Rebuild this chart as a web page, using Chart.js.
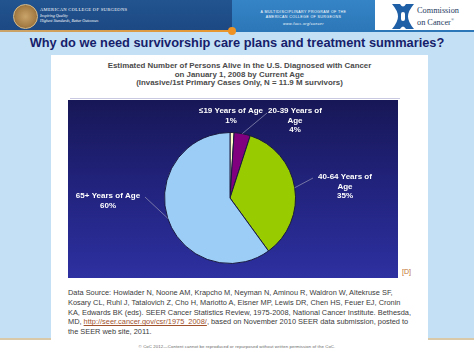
<!DOCTYPE html>
<html>
<head>
<meta charset="utf-8">
<script src="https://cdn.jsdelivr.net/npm/chart.js@4/dist/chart.umd.min.js"></script>
<style>
  html,body{margin:0;padding:0;}
  body{width:474px;height:355px;position:relative;overflow:hidden;background:#ffffff;font-family:"Liberation Sans",Arial,sans-serif;}
  .abs{position:absolute;}
  #hdrL{left:0;top:0;width:232px;height:31px;background:linear-gradient(to bottom,#22548f,#1c4883);}
  #hdrM{left:232px;top:0;width:143px;height:31px;background:linear-gradient(to bottom,#3584c6,#2c77b8);}
  #hdrR{left:375px;top:0;width:99px;height:31px;background:#fff;}
  #lineL{left:0;top:30px;width:232px;height:2px;background:linear-gradient(to right,#c9a36a,#e8962c);}
  #lineR{left:232px;top:30px;width:242px;height:2px;background:#2c77b8;}
  #dot{left:228px;top:27px;width:8px;height:8px;border-radius:50%;background:#ee9323;}
  #bg{left:0;top:32px;width:474px;height:307px;background:#c4e0f4;}
  #tan{left:0;top:338px;width:474px;height:2px;background:#d9c9a9;}
  #panel{left:51px;top:55px;width:377px;height:300px;background:#fff;}
  #seal{left:13px;top:4px;width:23px;height:23px;border-radius:50%;background:radial-gradient(circle,#c9a46a 0,#a57d45 60%,#6f5026 100%);border:1px solid #d9bd8a;}
  .hs{color:#fff;white-space:nowrap;}
  #title{left:0;top:35px;width:474px;text-align:center;font-weight:bold;font-size:12.8px;color:#16206b;white-space:nowrap;}
  #ctitle{left:51px;top:62px;width:377px;text-align:center;font-weight:bold;font-size:7.9px;line-height:8.7px;color:#4a4a4a;white-space:nowrap;}
  #sep{left:70px;top:98px;width:330px;height:1px;background:#c9c9e2;}
  #chartBox{left:68px;top:100px;width:330px;height:178px;background:linear-gradient(to bottom,#171757 0%,#22237e 50%,#2d30a0 100%);}
  #dref{left:402px;top:268px;font-size:7px;color:#c0702c;}
  #cite{left:68px;top:288px;font-size:7.4px;line-height:9.8px;color:#3a3a3a;white-space:nowrap;}
  #cite a{color:#a0522d;text-decoration:underline;}
  #foot{left:0;top:344px;width:474px;text-align:center;font-size:4.3px;color:#666;white-space:nowrap;letter-spacing:0.1px;}
</style>
</head>
<body>
<div class="abs" id="bg"></div>
<div class="abs" id="tan"></div>
<div class="abs" id="panel"></div>
<div class="abs" id="hdrL"></div>
<div class="abs" id="hdrM"></div>
<div class="abs" id="hdrR"></div>
<div class="abs" id="lineL"></div>
<div class="abs" id="lineR"></div>
<div class="abs" id="dot"></div>
<div class="abs" id="seal"></div>
<div class="abs hs" style="left:40px;top:7px;font-family:'Liberation Serif',serif;font-size:4.6px;letter-spacing:0.3px;">AMERICAN COLLEGE OF SURGEONS</div>
<div class="abs hs" style="left:40px;top:13px;font-family:'Liberation Serif',serif;font-style:italic;font-size:4px;">Inspiring Quality</div>
<div class="abs hs" style="left:40px;top:18px;font-family:'Liberation Serif',serif;font-style:italic;font-size:4px;">Highest Standards, Better Outcomes</div>
<div class="abs hs" style="left:232px;top:10px;width:143px;text-align:center;font-size:3.6px;letter-spacing:0.4px;line-height:5px;">A MULTIDISCIPLINARY PROGRAM OF THE<br>AMERICAN COLLEGE OF SURGEONS</div>
<div class="abs hs" style="left:232px;top:22px;width:143px;text-align:center;font-size:3.6px;letter-spacing:0.4px;font-style:italic;">www.facs.org/cancer</div>
<svg class="abs" style="left:391px;top:3px;" width="24" height="27" viewBox="0 0 24 27">
  <path d="M1 1 H9 Q12 6 15 1 H23 Q17 8 17 13.5 Q17 19 23 26 H15 Q12 21 9 26 H1 Q7 19 7 13.5 Q7 8 1 1 Z" fill="#1f5fa6"/>
  <rect x="10" y="9" width="4" height="9" rx="2" fill="#fff"/>
</svg>
<div class="abs" style="left:417px;top:7px;font-family:'Liberation Serif',serif;font-size:8.3px;line-height:8.5px;color:#243a5e;white-space:nowrap;">Commission<br>on Cancer<sup style="font-size:4px;">®</sup></div>

<div class="abs" id="title">Why do we need survivorship care plans and treatment summaries?</div>
<div class="abs" id="ctitle">Estimated Number of Persons Alive in the U.S. Diagnosed with Cancer<br>on January 1, 2008 by Current Age<br>(Invasive/1st Primary Cases Only, N = 11.9 M survivors)</div>
<div class="abs" id="sep"></div>
<div class="abs" id="chartBox"><canvas id="c" width="330" height="178"></canvas></div>
<div class="abs" id="dref">[D]</div>
<div class="abs" id="cite">Data Source: Howlader N, Noone AM, Krapcho M, Neyman N, Aminou R, Waldron W, Altekruse SF,<br>Kosary CL, Ruhl J, Tatalovich Z, Cho H, Mariotto A, Eisner MP, Lewis DR, Chen HS, Feuer EJ, Cronin<br>KA, Edwards BK (eds). SEER Cancer Statistics Review, 1975-2008, National Cancer Institute. Bethesda,<br>MD, <a>http://seer.cancer.gov/csr/1975_2008/</a>, based on November 2010 SEER data submission, posted to<br>the SEER web site, 2011.</div>
<div class="abs" id="foot">© CoC 2012—Content cannot be reproduced or repurposed without written permission of the CoC.</div>

<script>
// ---- data ----
const categories = ['≤19 Years of Age', '20-39 Years of Age', '40-64 Years of Age', '65+ Years of Age'];
const shares = [1, 4, 35, 60];
// how each category name is wrapped in its label
const nameLines = [
  ['≤19 Years of Age'],
  ['20-39 Years of', 'Age'],
  ['40-64 Years of', 'Age'],
  ['65+ Years of Age']
];
// ---- styles / layout ----
const sliceColors = ['#ffffc8', '#800080', '#99cc00', '#9ccdf7'];
const labelPos = [ // label centre relative to pie centre (first line), and leader start
  {dx: 1,    dy: -87, lead: null},
  {dx: 65,   dy: -87, lead: {dx: 37, dy: -85}},
  {dx: 115,  dy: -21, lead: {dx: 83, dy: -20}},
  {dx: -122, dy: -2,  lead: {dx: -85, dy: -1}}
];

const labelPlugin = {
  id: 'pieLabels',
  afterDatasetsDraw(chart) {
    const ctx = chart.ctx;
    const meta = chart.getDatasetMeta(0);
    ctx.save();
    meta.data.forEach((arc, i) => {
      const p = arc.getProps(['x', 'y', 'startAngle', 'endAngle', 'outerRadius'], true);
      const mid = (p.startAngle + p.endAngle) / 2;
      const lp = labelPos[i];
      if (lp.lead) {
        ctx.strokeStyle = '#8c8cb0';
        ctx.lineWidth = 0.8;
        ctx.beginPath();
        ctx.moveTo(p.x + lp.lead.dx, p.y + lp.lead.dy);
        ctx.lineTo(p.x + Math.cos(mid) * p.outerRadius, p.y + Math.sin(mid) * p.outerRadius);
        ctx.stroke();
      }
      const lines = nameLines[i].concat([shares[i] + '%']);
      ctx.fillStyle = '#ffffff';
      ctx.font = 'bold 8px "Liberation Sans", Arial, sans-serif';
      ctx.textAlign = 'center';
      ctx.textBaseline = 'middle';
      lines.forEach((t, k) => ctx.fillText(t, p.x + lp.dx, p.y + lp.dy + k * 9.5));
    });
    ctx.restore();
  }
};

new Chart(document.getElementById('c'), {
  type: 'pie',
  data: {
    labels: categories,
    datasets: [{
      data: shares,
      backgroundColor: sliceColors,
      borderColor: '#1a1a40',
      borderWidth: 1
    }]
  },
  options: {
    responsive: false,
    animation: false,
    devicePixelRatio: 1,
    layout: {padding: {top: 32, bottom: 14, left: 0, right: 6}},
    plugins: {legend: {display: false}, tooltip: {enabled: false}}
  },
  plugins: [labelPlugin]
});
</script>
</body>
</html>
